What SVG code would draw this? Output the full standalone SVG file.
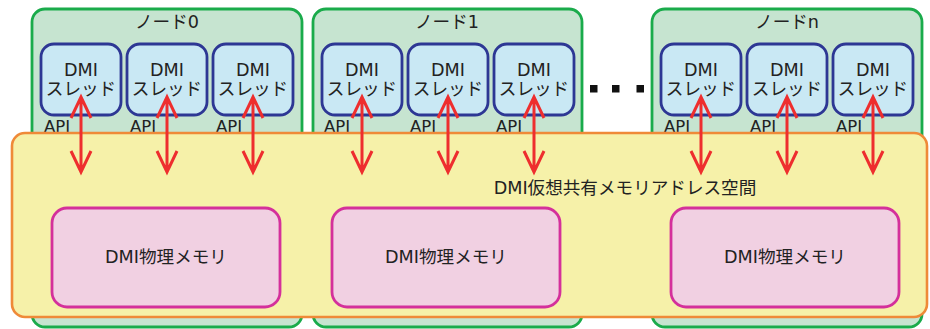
<svg xmlns="http://www.w3.org/2000/svg" width="930" height="329" viewBox="0 0 930 329">
<defs>
<style>
.node{fill:#c6e4d0;stroke:#1aab4b;stroke-width:2.8}
.thr{fill:#c9e8f4;stroke:#2d3794;stroke-width:2.8}
.mem{fill:#f1d0e2;stroke:#d4309b;stroke-width:2.8}
.space{fill:#f6f1a9;stroke:#ef8a38;stroke-width:2.6}
text{font-family:"DejaVu Sans","Noto Sans CJK JP",sans-serif;fill:#222;font-size:17.6px}
.c{text-anchor:middle}
.api{font-size:16.5px}
.arr{stroke:#ee2e2e;stroke-width:3;fill:none;stroke-linecap:butt}
</style>
<g id="tpl-thread">
<rect class="thr" x="0" y="0" width="80" height="71" rx="13"/>
<text class="c" x="40" y="32">DMI</text>
<text class="c" x="40" y="51">スレッド</text>
</g>
<path id="dbl" d="M0,0V75M-10,21L0,0L10,21M-10,54L0,75L10,54"/>
</defs>
<g id="node0">
<rect class="node" x="32" y="9" width="270" height="318" rx="13"/>
<text class="c" x="167" y="28">ノード0</text>
<use href="#tpl-thread" x="41" y="44"/>
<use href="#tpl-thread" x="127" y="44"/>
<use href="#tpl-thread" x="213" y="44"/>
<text class="api" x="44" y="132">API</text>
<text class="api" x="130" y="132">API</text>
<text class="api" x="216" y="132">API</text>
</g>
<g id="node1">
<rect class="node" x="313" y="9" width="269" height="318" rx="13"/>
<text class="c" x="447" y="28">ノード1</text>
<use href="#tpl-thread" x="322" y="44"/>
<use href="#tpl-thread" x="408" y="44"/>
<use href="#tpl-thread" x="494" y="44"/>
<text class="api" x="324" y="132">API</text>
<text class="api" x="410" y="132">API</text>
<text class="api" x="496" y="132">API</text>
</g>
<g id="noden">
<rect class="node" x="652" y="9" width="270" height="318" rx="13"/>
<text class="c" x="787" y="28">ノードn</text>
<use href="#tpl-thread" x="661" y="44"/>
<use href="#tpl-thread" x="747" y="44"/>
<use href="#tpl-thread" x="833" y="44"/>
<text class="api" x="664" y="132">API</text>
<text class="api" x="750" y="132">API</text>
<text class="api" x="836" y="132">API</text>
</g>
<g id="dots" fill="#111">
<rect x="590" y="85" width="7.5" height="7.5"/>
<rect x="612" y="85" width="7.5" height="7.5"/>
<rect x="636.5" y="85" width="7.5" height="7.5"/>
</g>
<g id="shared-space">
<rect class="space" x="12" y="133" width="915" height="184" rx="13"/>
<text class="c" x="625" y="194">DMI仮想共有メモリアドレス空間</text>
</g>
<g id="mem0">
<rect class="mem" x="52" y="208" width="228" height="99" rx="15"/>
<text class="c" x="166" y="263">DMI物理メモリ</text>
</g>
<g id="mem1">
<rect class="mem" x="332" y="208" width="228" height="99" rx="15"/>
<text class="c" x="446" y="263">DMI物理メモリ</text>
</g>
<g id="memn">
<rect class="mem" x="671" y="208" width="228" height="99" rx="15"/>
<text class="c" x="785" y="263">DMI物理メモリ</text>
</g>
<g id="connectors" class="arr">
<use href="#dbl" x="81" y="97"/>
<use href="#dbl" x="167" y="97"/>
<use href="#dbl" x="253" y="97"/>
<use href="#dbl" x="362" y="97"/>
<use href="#dbl" x="448" y="97"/>
<use href="#dbl" x="534" y="97"/>
<use href="#dbl" x="701" y="97"/>
<use href="#dbl" x="787" y="97"/>
<use href="#dbl" x="873" y="97"/>
</g>
</svg>
